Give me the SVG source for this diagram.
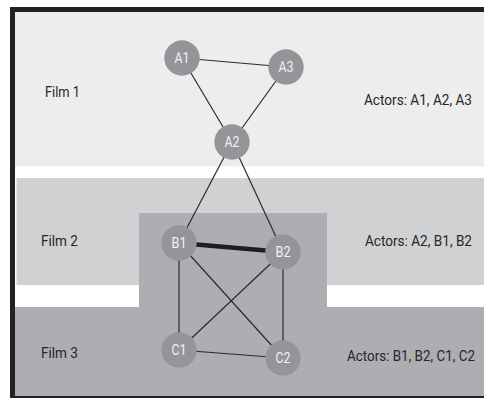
<svg xmlns="http://www.w3.org/2000/svg" width="484" height="398" viewBox="0 0 484 398">
<style>
.lbl{font-family:Roboto,"Liberation Sans",sans-serif;font-size:14px;fill:#262626}
.nl{font-family:Roboto,"Liberation Sans",sans-serif;font-size:15px;fill:#f2f2f2;text-anchor:middle}
.node{fill:#939598}
.edge{stroke:#2b2b2b;stroke-width:1.2;fill:none}
</style>
<rect x="0" y="0" width="484" height="398" fill="#ffffff"/>
<g id="bands">
<rect x="15" y="12" width="469" height="154.5" fill="#ededed"/>
<rect x="16.5" y="178" width="467.5" height="107" fill="#d0d1d3"/>
<rect x="15" y="307" width="469" height="89" fill="#adaeb1"/>
<rect x="139" y="213" width="188" height="95" fill="#adaeb1"/>
</g>
<g id="frame" fill="#222">
<rect x="10" y="7" width="5" height="391"/>
<rect x="10" y="7" width="474" height="5"/>
<rect x="10" y="396" width="474" height="2"/>
</g>
<g id="texts">
<text class="lbl" x="45" y="97" textLength="35" lengthAdjust="spacingAndGlyphs">Film 1</text>
<text class="lbl" x="41" y="246" textLength="37" lengthAdjust="spacingAndGlyphs">Film 2</text>
<text class="lbl" x="41" y="358" textLength="37" lengthAdjust="spacingAndGlyphs">Film 3</text>
<text class="lbl" x="364" y="105" textLength="108" lengthAdjust="spacingAndGlyphs">Actors: A1, A2, A3</text>
<text class="lbl" x="365" y="246" textLength="107" lengthAdjust="spacingAndGlyphs">Actors: A2, B1, B2</text>
<text class="lbl" x="347" y="361" textLength="128" lengthAdjust="spacingAndGlyphs">Actors: B1, B2, C1, C2</text>
</g>
<g id="connectors">
<line class="edge" x1="182" y1="58" x2="286" y2="67"/>
<line class="edge" x1="182" y1="58" x2="232" y2="142"/>
<line class="edge" x1="286" y1="67" x2="232" y2="142"/>
<line class="edge" x1="232" y1="142" x2="179" y2="243"/>
<line class="edge" x1="232" y1="142" x2="283" y2="252"/>
<line x1="179" y1="243" x2="283" y2="252" stroke="#1e1e1e" stroke-width="4.5"/>
<line class="edge" x1="179" y1="243" x2="179" y2="350"/>
<line class="edge" x1="179" y1="243" x2="283" y2="358"/>
<line class="edge" x1="283" y1="252" x2="179" y2="350"/>
<line class="edge" x1="283" y1="252" x2="283" y2="358"/>
<line class="edge" x1="179" y1="350" x2="283" y2="358"/>
</g>
<g id="A1"><circle class="node" cx="182" cy="58" r="17.7"/><text class="nl" x="182" y="63" textLength="15" lengthAdjust="spacingAndGlyphs">A1</text></g>
<g id="A3"><circle class="node" cx="286" cy="67" r="17.7"/><text class="nl" x="286" y="72" textLength="15" lengthAdjust="spacingAndGlyphs">A3</text></g>
<g id="A2"><circle class="node" cx="232" cy="142" r="17.7"/><text class="nl" x="232" y="147" textLength="15" lengthAdjust="spacingAndGlyphs">A2</text></g>
<g id="B1"><circle class="node" cx="179" cy="243" r="17.7"/><text class="nl" x="179" y="248" textLength="15" lengthAdjust="spacingAndGlyphs">B1</text></g>
<g id="B2"><circle class="node" cx="283" cy="252" r="17.7"/><text class="nl" x="283" y="257" textLength="15" lengthAdjust="spacingAndGlyphs">B2</text></g>
<g id="C1"><circle class="node" cx="179" cy="350" r="17.7"/><text class="nl" x="179" y="355" textLength="15" lengthAdjust="spacingAndGlyphs">C1</text></g>
<g id="C2"><circle class="node" cx="283" cy="358" r="17.7"/><text class="nl" x="283" y="363" textLength="15" lengthAdjust="spacingAndGlyphs">C2</text></g>
</svg>
